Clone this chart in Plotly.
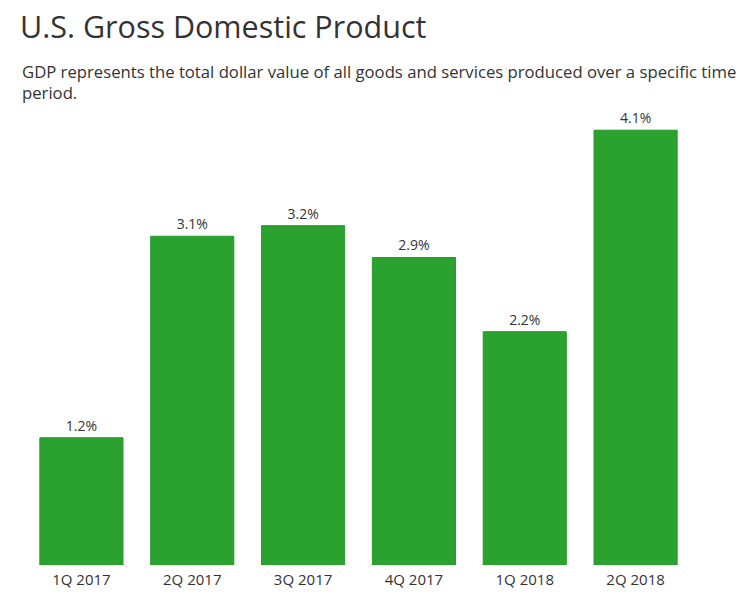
import plotly.graph_objects as go

categories = ["1Q 2017", "2Q 2017", "3Q 2017", "4Q 2017", "1Q 2018", "2Q 2018"]
gdp_growth = [1.2, 3.1, 3.2, 2.9, 2.2, 4.1]
value_labels = [f"{v:.1f}%" for v in gdp_growth]

title_text = "U.S. Gross Domestic Product"
subtitle_line1 = "GDP represents the total dollar value of all goods and services produced over a specific time"
subtitle_line2 = "period."

W, H = 742, 594
ml, mr, mt, mb = 26, 51, 109, 29
plot_h = H - mt - mb

def py(y_px):
    return (H - mb - y_px) / plot_h

def px(x_px):
    return (x_px - ml) / (W - ml - mr)

fig = go.Figure(go.Bar(
    x=categories,
    y=gdp_growth,
    text=value_labels,
    textposition="outside",
    textfont=dict(family="Open Sans", size=14, color="#333333"),
    cliponaxis=False,
    marker=dict(color="#2ba12f", line=dict(color="#279a2a", width=1)),
    hoverinfo="skip",
))

fig.update_layout(
    width=W, height=H,
    margin=dict(l=ml, r=mr, t=mt, b=mb),
    paper_bgcolor="white", plot_bgcolor="white",
    bargap=0.25,
    showlegend=False,
    xaxis=dict(showgrid=False, showline=False, zeroline=False, ticks="",
               automargin=False, ticklabelstandoff=4,
               tickfont=dict(family="Open Sans", size=15, color="#333333")),
    yaxis=dict(range=[0, 4.3], visible=False, showgrid=False, zeroline=False,
               automargin=False),
    annotations=[
        dict(text=title_text, xref="paper", yref="paper", x=px(18), y=py(26),
             xanchor="left", yanchor="middle", showarrow=False,
             font=dict(family="Open Sans", size=30.5, color="#333333")),
        dict(text=subtitle_line1, xref="paper", yref="paper", x=px(20), y=py(71),
             xanchor="left", yanchor="middle", showarrow=False,
             font=dict(family="Open Sans", size=16.7, color="#333333")),
        dict(text=subtitle_line2, xref="paper", yref="paper", x=px(20), y=py(93),
             xanchor="left", yanchor="middle", showarrow=False,
             font=dict(family="Open Sans", size=16.7, color="#333333")),
    ],
)

fig.write_html("out.html")
